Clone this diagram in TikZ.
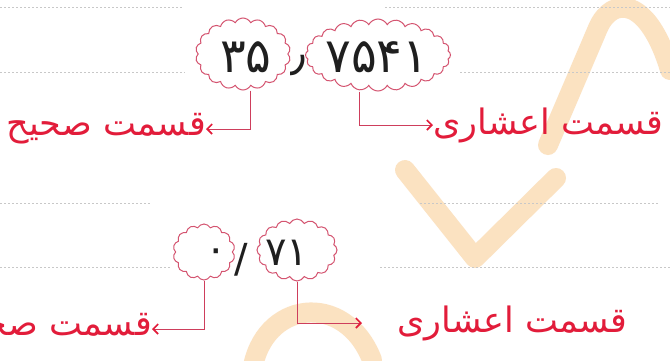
\documentclass[tikz,border=0pt]{standalone}
\usepackage{fontspec}
\usetikzlibrary{shapes.symbols,arrows.meta}
\TeXXeTstate=1
\newfontfamily\arabicfont[Script=Arabic]{DejaVu Sans}
\definecolor{inkred}{RGB}{226,28,58}
\definecolor{linkred}{RGB}{206,62,92}
\definecolor{puff}{RGB}{212,84,112}
\definecolor{ruling}{RGB}{200,200,200}
\definecolor{wmark}{RGB}{250,214,168}
\begin{document}
\begin{tikzpicture}[x=1pt,y=-1pt,
  puffbox/.style={cloud, cloud puffs=#1, cloud puff arc=125, draw=puff,
    line width=1pt, inner sep=0pt},
  digits/.style={font=\arabicfont\fontsize{48}{54}\selectfont, text=black!88, inner sep=0pt},
  smalldigits/.style={font=\arabicfont\fontsize{40}{44}\selectfont, text=black!88, inner sep=0pt},
  partlabel/.style={font=\arabicfont\fontsize{35}{40}\selectfont, text=inkred, inner sep=0pt},
  leader/.style={draw=linkred, line width=1pt,
    -{Straight Barb[length=5pt,width=10pt,line width=1.6pt,color=inkred]}},
  ruleline/.style={draw=ruling, line width=0.8pt, dash pattern=on 1.5pt off 2.5pt},
  wm/.style={draw=wmark, line width=20pt, line cap=round, line join=round, opacity=0.7}]

\useasboundingbox (0,0) rectangle (670,360);
\fill[white] (0,0) rectangle (670,360);

% faint watermark strokes
\draw[wm] (405,170) -- (475,258) -- (556,178);
\draw[wm] (548,145) -- (598,28) .. controls (612,-4) and (648,-4) .. (670,70);
\draw[wm] (252,372) .. controls (262,300) and (345,290) .. (372,360);

% notebook rulings
\draw[ruleline] (0,7) -- (182,7);   \draw[ruleline] (385,7) -- (670,7);
\draw[ruleline] (0,72) -- (185,72); \draw[ruleline] (460,72) -- (670,72);
\draw[ruleline] (0,203) -- (150,203); \draw[ruleline] (420,203) -- (660,203);
\draw[ruleline] (0,267) -- (170,267); \draw[ruleline] (380,267) -- (670,267);

% first number: 35.7541
\node[puffbox=18, minimum width=95pt, minimum height=72pt] (intA) at (243,54) {};
\node[puffbox=24, minimum width=145pt, minimum height=72pt] (decA) at (378,55) {};
\node[digits] (intAtxt) at (246,57) {۳۵};
\node[digits] (sepA) at (298,66) {٫};
\node[digits] (decAtxt) at (377,57) {۷۵۴۱};

\node[partlabel, anchor=east] (intAlbl) at (206,129) {\beginR قسمت صحیح\endR};
\node[partlabel, anchor=west] (decAlbl) at (433,125) {\beginR قسمت اعشاری\endR};

\draw[leader] ([xshift=7pt]intA.south) |- (intAlbl.east);
\draw[leader] ([xshift=-19pt]decA.south) |- (decAlbl.west);

% second number: 0.71
\node[puffbox=14, minimum width=62pt, minimum height=56pt] (intB) at (204,252) {};
\node[puffbox=16, minimum width=80pt, minimum height=62pt] (decB) at (297,250) {};
\node[smalldigits] (intBtxt) at (216,256) {۰};
\node[smalldigits] (sepB) at (241,260) {/};
\node[smalldigits] (decBtxt) at (287,253) {۷۱};

\node[partlabel, anchor=east] (intBlbl) at (152,329) {\beginR قسمت صحیح\endR};
\node[partlabel, anchor=west] (decBlbl) at (397,323) {\beginR قسمت اعشاری\endR};

\draw[leader] (intB.south) |- (intBlbl.east);
\draw[leader] (decB.south) |- ([xshift=-35pt]decBlbl.west);
\end{tikzpicture}
\end{document}
